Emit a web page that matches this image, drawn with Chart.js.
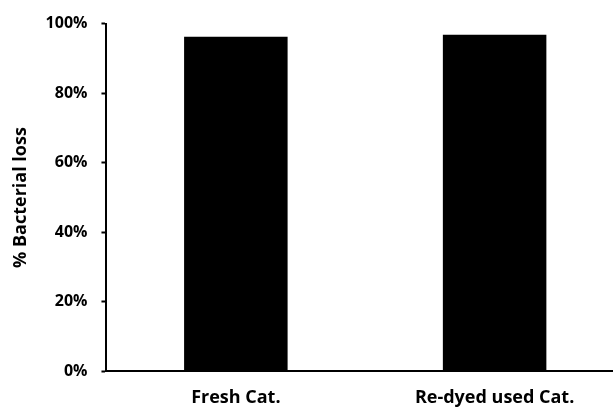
<!DOCTYPE html>
<html>
<head>
<meta charset="utf-8">
<script src="https://cdn.jsdelivr.net/npm/chart.js@4"></script>
<style>
  html, body { margin: 0; padding: 0; background: #fff; overflow: hidden; }
  #wrap { width: 624px; height: 410px; position: relative; }
</style>
</head>
<body>
<div id="wrap"><canvas id="c"></canvas></div>
<script>
// Bacterial loss per catalyst type (fraction of 100%)
const categories = ["Fresh Cat.", "Re-dyed used Cat."];
const lossPercent = [96.2, 96.8];
const yTicks = [0, 20, 40, 60, 80, 100];

const font = "'Open Sans', 'Liberation Sans', sans-serif";

new Chart(document.getElementById("c"), {
  type: "bar",
  data: {
    labels: categories,
    datasets: [{
      data: lossPercent,
      backgroundColor: "#000",
      borderWidth: 0,
      categoryPercentage: 0.4,
      barPercentage: 1.0
    }]
  },
  options: {
    responsive: true,
    maintainAspectRatio: false,
    animation: false,
    layout: { padding: { top: 10, right: 0, bottom: -15, left: 10 } },
    plugins: { legend: { display: false }, tooltip: { enabled: false } },
    scales: {
      x: {
        grid: { display: false, drawTicks: false },
        border: { color: "#000", width: 2 },
        ticks: {
          color: "#000",
          font: { family: font, size: 18, weight: "bold" },
          padding: 16
        }
      },
      y: {
        min: 0,
        max: 100,
        afterBuildTicks: (axis) => { axis.ticks = yTicks.map(v => ({ value: v })); },
        grid: { drawOnChartArea: false, drawTicks: true, tickLength: 5, tickColor: "#000", tickWidth: 2 },
        border: { color: "#000", width: 2 },
        ticks: {
          color: "#000",
          padding: 14,
          font: { family: font, size: 16, weight: "bold" },
          callback: (v) => v + "%"
        },
        title: {
          display: true,
          text: "% Bacterial loss",
          color: "#000",
          font: { family: font, size: 18, weight: "bold" },
          padding: { top: 0, bottom: 0 }
        }
      }
    }
  }
});
</script>
</body>
</html>
